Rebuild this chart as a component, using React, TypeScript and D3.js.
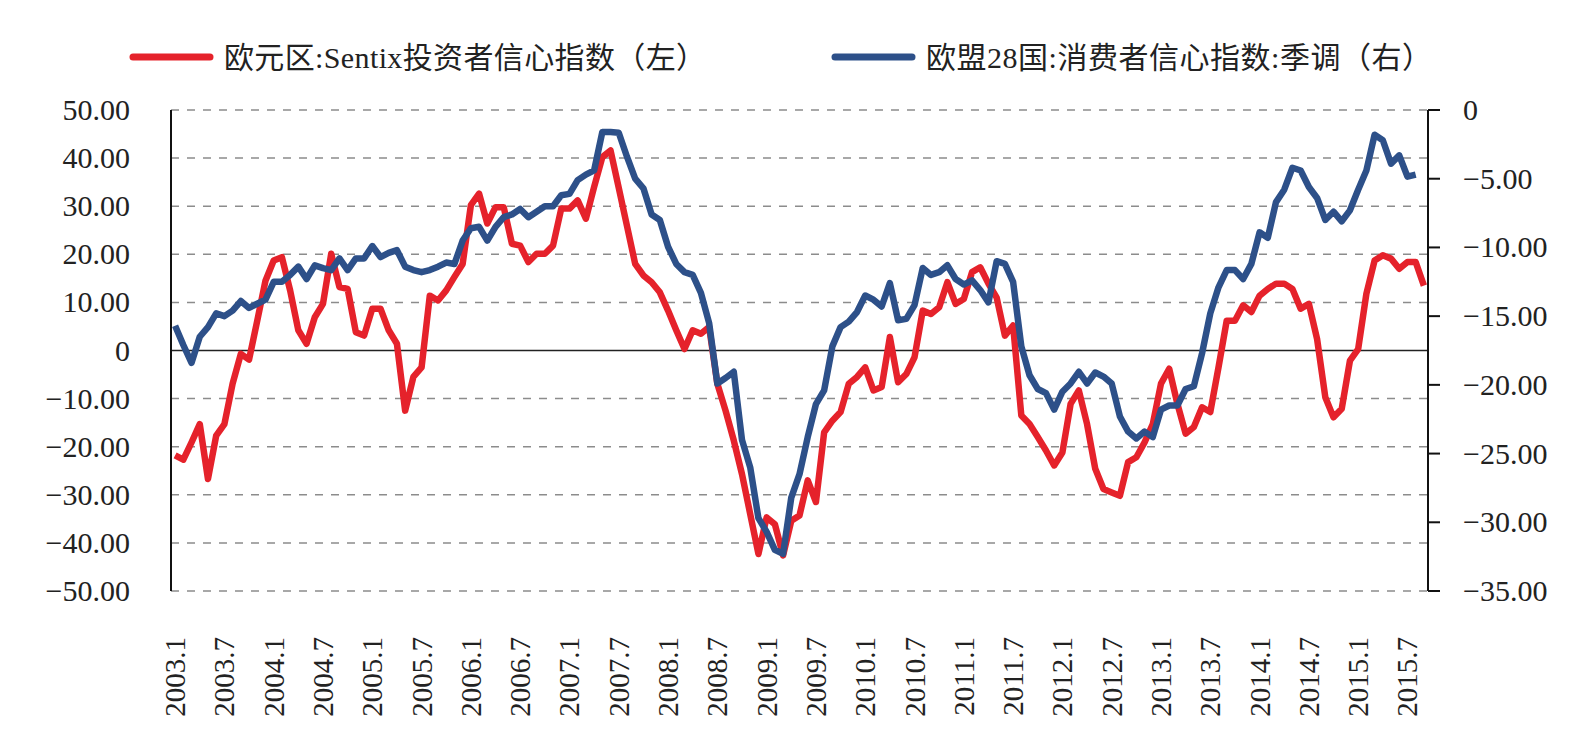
import React, { useEffect, useRef } from 'react';
import * as d3 from 'd3';

// 欧元区:Sentix投资者信心指数 (left axis), monthly from 2003.1
const sentix2003 = [-21.8, -22.7, -19.1, -15.3, -26.7, -17.7, -15.3, -6.9, -0.7, -1.9, 6.2, 14.5];
const sentix2004 = [18.7, 19.4, 12.5, 4.2, 1.4, 6.9, 9.7, 20.1, 13.2, 12.8, 3.8, 3.1];
const sentix2005 = [8.7, 8.7, 4.2, 1.4, -12.5, -5.5, -3.5, 11.4, 10.4, 12.5, 15.3, 18.0];
const sentix2006 = [30.2, 32.6, 26.4, 29.8, 29.8, 22.2, 21.8, 18.4, 20.1, 20.1, 21.8, 29.5];
const sentix2007 = [29.5, 31.2, 27.4, 34.0, 40.2, 41.6, 33.8, 25.9, 18.0, 15.6, 14.2, 12.1];
const sentix2008 = [8.3, 4.2, 0.3, 4.2, 3.5, 4.9, -6.9, -12.5, -18.7, -25.7, -34.0, -42.3];
const sentix2009 = [-34.7, -36.1, -42.6, -35.4, -34.3, -27.0, -31.5, -17.0, -14.6, -12.8, -6.9, -5.5];
const sentix2010 = [-3.5, -8.3, -7.6, 2.8, -6.6, -4.9, -1.4, 8.3, 7.6, 9.0, 14.2, 9.7];
const sentix2011 = [10.7, 16.3, 17.3, 13.9, 11.0, 3.1, 5.2, -13.5, -15.3, -18.0, -20.8, -23.9];
const sentix2012 = [-21.2, -11.1, -8.3, -15.3, -24.6, -28.8, -29.5, -30.2, -23.2, -22.2, -19.1, -15.3];
const sentix2013 = [-6.9, -3.8, -11.1, -17.3, -15.9, -11.8, -12.8, -3.5, 6.2, 6.2, 9.4, 8.0];
const sentix2014 = [11.4, 12.8, 13.9, 13.9, 12.8, 8.7, 9.7, 2.4, -9.7, -13.9, -12.1, -2.1];
const sentix2015 = [0.3, 11.8, 18.7, 19.8, 19.1, 17.0, 18.4, 18.4, 13.5];

// 欧盟28国:消费者信心指数:季调 (right axis)
const consumer2003 = [-15.7, -17.1, -18.4, -16.5, -15.8, -14.8, -15.0, -14.6, -13.9, -14.4, -14.1, -13.8];
const consumer2004 = [-12.5, -12.5, -12.0, -11.4, -12.3, -11.3, -11.5, -11.65, -10.8, -11.65, -10.8, -10.8];
const consumer2005 = [-9.9, -10.7, -10.4, -10.2, -11.4, -11.65, -11.8, -11.65, -11.4, -11.1, -11.2, -9.5];
const consumer2006 = [-8.6, -8.5, -9.5, -8.5, -7.8, -7.6, -7.2, -7.8, -7.4, -7.0, -7.0, -6.2];
const consumer2007 = [-6.1, -5.1, -4.7, -4.4, -1.6, -1.6, -1.65, -3.4, -5.0, -5.7, -7.6, -8.0];
const consumer2008 = [-9.95, -11.2, -11.8, -12.0, -13.3, -15.5, -19.9, -19.5, -19.05, -24.0, -26.0, -29.7];
const consumer2009 = [-30.7, -32.0, -32.3, -28.2, -26.5, -23.8, -21.4, -20.4, -17.2, -15.8, -15.4, -14.7];
const consumer2010 = [-13.5, -13.8, -14.3, -12.6, -15.3, -15.2, -14.2, -11.5, -12.0, -11.8, -11.3, -12.3];
const consumer2011 = [-12.7, -12.4, -13.1, -14.0, -11.0, -11.2, -12.5, -17.2, -19.3, -20.3, -20.6, -21.8];
const consumer2012 = [-20.5, -19.9, -19.05, -19.9, -19.1, -19.4, -19.9, -22.3, -23.4, -23.9, -23.4, -23.8];
const consumer2013 = [-21.8, -21.5, -21.5, -20.3, -20.1, -17.7, -14.8, -12.9, -11.65, -11.65, -12.3, -11.2];
const consumer2014 = [-8.9, -9.3, -6.7, -5.8, -4.2, -4.4, -5.6, -6.4, -8.0, -7.4, -8.1, -7.3];
const consumer2015 = [-5.8, -4.4, -1.8, -2.2, -3.9, -3.3, -4.85, -4.7];

const sentix = [
  ...sentix2003, ...sentix2004, ...sentix2005, ...sentix2006, ...sentix2007, ...sentix2008, ...sentix2009,
  ...sentix2010, ...sentix2011, ...sentix2012, ...sentix2013, ...sentix2014, ...sentix2015,
];
const consumer = [
  ...consumer2003, ...consumer2004, ...consumer2005, ...consumer2006, ...consumer2007, ...consumer2008, ...consumer2009,
  ...consumer2010, ...consumer2011, ...consumer2012, ...consumer2013, ...consumer2014, ...consumer2015,
];

// categories 2003.1 .. 2015.9
const months: string[] = [];
for (let y = 2003; y <= 2015; y++) {
  for (let m = 1; m <= 12; m++) {
    if (months.length < sentix.length) months.push(`${y}.${m}`);
  }
}
const xTickLabels = months.filter(d => d.endsWith('.1') && !d.endsWith('.11') || d.endsWith('.7'));

const leftTicks = [50, 40, 30, 20, 10, 0, -10, -20, -30, -40, -50];
const rightTicks = [0, -5, -10, -15, -20, -25, -30, -35];

const legendRed = '欧元区:Sentix投资者信心指数（左）';
const legendBlue = '欧盟28国:消费者信心指数:季调（右）';

const RED = '#e5222b';
const BLUE = '#2d5089';
const SERIF = "'Liberation Serif', 'Times New Roman', serif";
const MIXED = "'Liberation Serif', 'Noto Sans CJK SC', serif";

const fmt = (v: number, zeroPlain: boolean) => {
  if (v === 0 && zeroPlain) return '0';
  const s = Math.abs(v).toFixed(2);
  return v < 0 ? '\u2212' + s : s;
};

const App = () => {
  const ref = useRef<SVGSVGElement>(null);

  useEffect(() => {
    const svg = d3.select(ref.current);
    svg.selectAll('*').remove();

    const left = 171, right = 1428, top = 110, bottom = 591;

    const x = d3.scalePoint<string>().domain(months).range([left, right]).padding(0.5);
    const yL = d3.scaleLinear().domain([-50, 50]).range([bottom, top]);
    const yR = d3.scaleLinear().domain([-35, 0]).range([bottom, top]);

    // grid
    svg.append('g')
      .selectAll('line')
      .data(leftTicks.filter(d => d !== 0))
      .enter()
      .append('line')
      .attr('x1', left).attr('x2', right)
      .attr('y1', d => yL(d)).attr('y2', d => yL(d))
      .attr('stroke', '#8c8c8c')
      .attr('stroke-width', 1.5)
      .attr('stroke-dasharray', '8,8');

    // zero line
    svg.append('line')
      .attr('x1', left).attr('x2', right)
      .attr('y1', yL(0)).attr('y2', yL(0))
      .attr('stroke', '#222').attr('stroke-width', 1.6);

    // left axis
    svg.append('line')
      .attr('x1', left).attr('x2', left)
      .attr('y1', top).attr('y2', bottom)
      .attr('stroke', '#111').attr('stroke-width', 2);

    svg.append('g')
      .selectAll('text')
      .data(leftTicks)
      .enter()
      .append('text')
      .attr('x', 130)
      .attr('y', d => yL(d) + 10)
      .attr('text-anchor', 'end')
      .attr('font-family', SERIF)
      .attr('font-size', 30)
      .attr('fill', '#222')
      .text(d => fmt(d, true));

    // right axis
    svg.append('line')
      .attr('x1', right).attr('x2', right)
      .attr('y1', top).attr('y2', bottom)
      .attr('stroke', '#111').attr('stroke-width', 2);

    svg.append('g')
      .selectAll('line')
      .data(rightTicks)
      .enter()
      .append('line')
      .attr('x1', right).attr('x2', right + 12)
      .attr('y1', d => yR(d)).attr('y2', d => yR(d))
      .attr('stroke', '#111').attr('stroke-width', 2);

    svg.append('g')
      .selectAll('text')
      .data(rightTicks)
      .enter()
      .append('text')
      .attr('x', 1463)
      .attr('y', d => yR(d) + 10)
      .attr('font-family', SERIF)
      .attr('font-size', 30)
      .attr('fill', '#222')
      .text(d => fmt(d, true));

    // x labels
    svg.append('g')
      .selectAll('text')
      .data(xTickLabels)
      .enter()
      .append('text')
      .attr('transform', d => `translate(${(x(d) as number) + 10},637) rotate(-90)`)
      .attr('text-anchor', 'end')
      .attr('font-family', SERIF)
      .attr('font-size', 29)
      .attr('fill', '#222')
      .text(d => d);

    // series
    const lineL = d3.line<number>()
      .x((_, i) => x(months[i]) as number)
      .y(d => yL(d));
    const lineR = d3.line<number>()
      .x((_, i) => x(months[i]) as number)
      .y(d => yR(d));

    svg.append('path')
      .datum(sentix)
      .attr('d', lineL)
      .attr('fill', 'none')
      .attr('stroke', RED)
      .attr('stroke-width', 6.5)
      .attr('stroke-linejoin', 'round');

    svg.append('path')
      .datum(consumer)
      .attr('d', lineR)
      .attr('fill', 'none')
      .attr('stroke', BLUE)
      .attr('stroke-width', 6.5)
      .attr('stroke-linejoin', 'round');

    // legend
    const legend = [
      { label: legendRed, color: RED, x0: 133, len: 482 },
      { label: legendBlue, color: BLUE, x0: 835, len: 506 },
    ];
    const lg = svg.append('g').selectAll('g').data(legend).enter().append('g');
    lg.append('line')
      .attr('x1', d => d.x0).attr('x2', d => d.x0 + 77)
      .attr('y1', 57).attr('y2', 57)
      .attr('stroke', d => d.color)
      .attr('stroke-width', 7)
      .attr('stroke-linecap', 'round');
    lg.append('text')
      .attr('x', d => d.x0 + 91)
      .attr('y', 68)
      .attr('font-family', MIXED)
      .attr('font-size', 30)
      .attr('fill', '#222')
      .attr('textLength', d => d.len)
      .attr('lengthAdjust', 'spacing')
      .text(d => d.label);
  }, []);

  return (
    <svg ref={ref} width={1581} height={750} style={{ position: 'absolute', left: 0, top: 0, background: '#fff' }}></svg>
  );
};

export default App;
